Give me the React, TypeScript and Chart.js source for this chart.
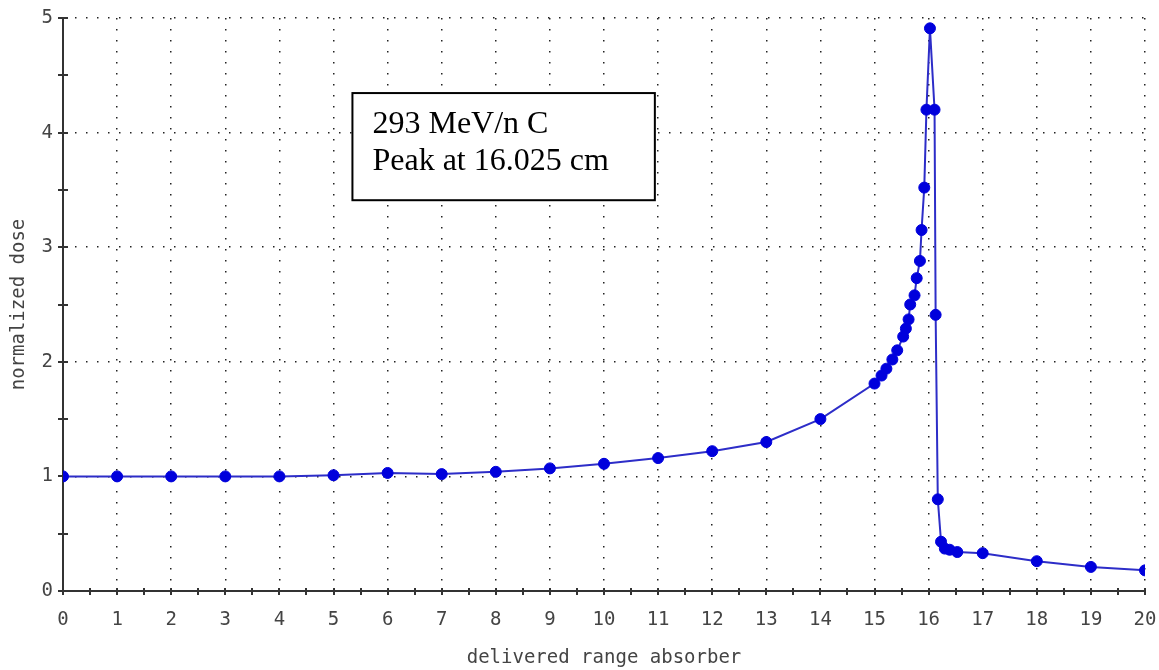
import React, { useEffect, useRef } from "react";
import { Chart, registerables } from "chart.js";

Chart.register(...registerables);

// Depth (cm) of each measured point
const depthCm: number[] = [
  0, 1, 2, 3, 4, 5, 6, 7, 8, 9, 10, 11, 12, 13, 14, 15,
  15.13, 15.22, 15.33, 15.42, 15.53, 15.58, 15.63, 15.66, 15.74, 15.78,
  15.84, 15.87, 15.92, 15.96, 16.025, 16.11, 16.13, 16.17, 16.23, 16.3,
  16.39, 16.53, 17, 18, 19, 20,
];

// Normalized dose at each depth
const normalizedDose: number[] = [
  1, 1, 1, 1, 1, 1.01, 1.03, 1.02, 1.04, 1.07, 1.11, 1.16, 1.22, 1.3, 1.5, 1.81,
  1.88, 1.94, 2.02, 2.1, 2.22, 2.29, 2.37, 2.5, 2.58, 2.73,
  2.88, 3.15, 3.52, 4.2, 4.91, 4.2, 2.41, 0.8, 0.43, 0.37,
  0.36, 0.34, 0.33, 0.26, 0.21, 0.18,
];

const xAxisRange: number[] = [0, 20];
const yAxisRange: number[] = [0, 5];
const xAxisTitle = "delivered range absorber";
const yAxisTitle = "normalized dose";

// Annotation box text and its corners in data units
const annotationLines: string[] = ["293 MeV/n C", "Peak at 16.025 cm"];
const annotationBox: number[] = [5.35, 4.345, 10.94, 3.41]; // x1, y1, x2, y2

const MONO = "'DejaVu Sans Mono', monospace";
const LABEL_COLOR = "#444";

const isInt = (v: number) => Math.abs(v - Math.round(v)) < 1e-6;

const crossTicksPlugin = {
  id: "crossTicks",
  beforeDatasetsDraw(chart: any) {
    const ctx = chart.ctx;
    const xs = chart.scales.x;
    const ys = chart.scales.y;
    const area = chart.chartArea;
    ctx.save();
    ctx.strokeStyle = "#333";
    ctx.lineWidth = 2;
    ctx.beginPath();
    xs.ticks.forEach((t: any) => {
      const px = Math.round(xs.getPixelForValue(t.value));
      ctx.moveTo(px, area.bottom - 3);
      ctx.lineTo(px, area.bottom + 4);
    });
    ys.ticks.forEach((t: any) => {
      const py = Math.round(ys.getPixelForValue(t.value));
      ctx.moveTo(area.left - 5, py);
      ctx.lineTo(area.left + 5, py);
    });
    ctx.stroke();

    // annotation box
    const [bx1, by1, bx2, by2] = annotationBox;
    const l = xs.getPixelForValue(bx1);
    const r = xs.getPixelForValue(bx2);
    const t = ys.getPixelForValue(by1);
    const b = ys.getPixelForValue(by2);
    ctx.fillStyle = "#fff";
    ctx.fillRect(l, t, r - l, b - t);
    ctx.strokeStyle = "#000";
    ctx.lineWidth = 2;
    ctx.strokeRect(l, t, r - l, b - t);
    ctx.fillStyle = "#000";
    ctx.font = "32px 'Liberation Serif', 'Times New Roman', serif";
    ctx.textAlign = "left";
    ctx.textBaseline = "alphabetic";
    annotationLines.forEach((line, i) => {
      ctx.fillText(line, l + 20, t + 40 + i * 37);
    });
    ctx.restore();
  },
};

export default function App() {
  const canvasRef = useRef<HTMLCanvasElement | null>(null);

  useEffect(() => {
    if (!canvasRef.current) return;
    const chart = new Chart(canvasRef.current, {
      type: "line",
      data: {
        datasets: [
          {
            data: depthCm.map((x, i) => ({ x, y: normalizedDose[i] })),
            borderColor: "#2d2dc8",
            borderWidth: 2,
            backgroundColor: "#0000dc",
            pointBackgroundColor: "#0000dc",
            pointBorderColor: "#0000dc",
            pointRadius: 5.5,
            pointBorderWidth: 1,
            tension: 0,
            fill: false,
          },
        ],
      },
      options: {
        animation: false,
        responsive: false,
        devicePixelRatio: 1,
        layout: { padding: { top: 18, right: 0, left: 0, bottom: 0 } },
        plugins: {
          legend: { display: false },
          tooltip: { enabled: false },
        },
        scales: {
          x: {
            type: "linear",
            min: xAxisRange[0],
            max: xAxisRange[1],
            afterFit: (s: any) => {
              s.height = 79;
              s.paddingLeft = 0;
              s.paddingRight = 14;
            },
            ticks: {
              stepSize: 0.5,
              autoSkip: false,
              maxRotation: 0,
              padding: 18,
              color: LABEL_COLOR,
              font: { family: MONO, size: 19 },
              callback: (v: any) => (isInt(Number(v)) ? String(Math.round(Number(v))) : ""),
            },
            grid: {
              drawTicks: false,
              lineWidth: 1.5,
              color: (c: any) => (isInt(c.tick.value) ? "#222" : "rgba(0,0,0,0)"),
            },
            border: { display: true, color: "#333", width: 2, dash: [1.5, 9.5] },
            title: {
              display: true,
              text: xAxisTitle,
              color: LABEL_COLOR,
              font: { family: MONO, size: 19 },
              padding: { top: 0, bottom: 1 },
            },
          },
          y: {
            type: "linear",
            min: yAxisRange[0],
            max: yAxisRange[1],
            afterFit: (s: any) => {
              s.width = 63;
              s.paddingTop = 0;
              s.paddingBottom = 0;
            },
            ticks: {
              stepSize: 0.5,
              autoSkip: false,
              padding: 10,
              color: LABEL_COLOR,
              font: { family: MONO, size: 19 },
              callback: (v: any) => (isInt(Number(v)) ? String(Math.round(Number(v))) : ""),
            },
            grid: {
              drawTicks: false,
              lineWidth: 1.5,
              color: (c: any) => (isInt(c.tick.value) ? "#222" : "rgba(0,0,0,0)"),
            },
            border: { display: true, color: "#333", width: 2, dash: [1.5, 9.5] },
            title: {
              display: true,
              text: yAxisTitle,
              color: LABEL_COLOR,
              font: { family: MONO, size: 19 },
              padding: { top: 8, bottom: 0 },
            },
          },
        },
      },
      plugins: [crossTicksPlugin],
    });
    return () => chart.destroy();
  }, []);

  return (
    <div style={{ position: "fixed", left: 0, top: 0, width: 1159, height: 670, background: "#fff" }}>
      <canvas ref={canvasRef} width={1159} height={670} style={{ display: "block" }} />
    </div>
  );
}
